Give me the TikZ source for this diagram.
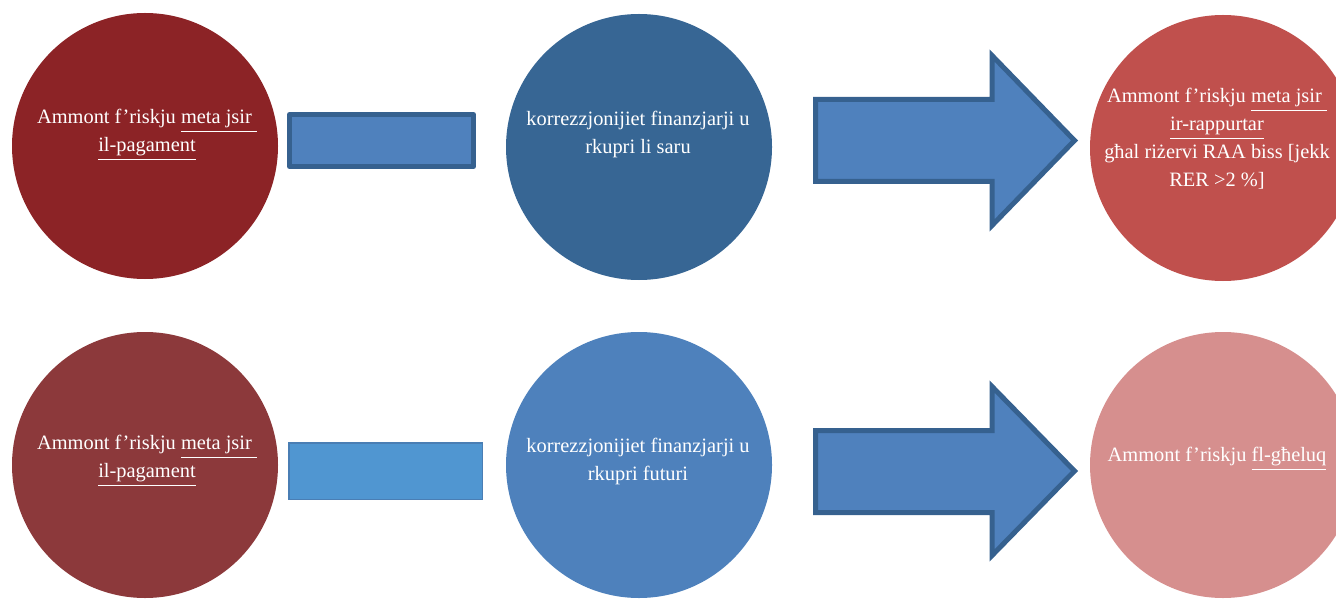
\documentclass[tikz,border=0pt]{standalone}
\usepackage{fontspec}
\setmainfont{Liberation Serif}
\usetikzlibrary{positioning}

\definecolor{lossdark}{RGB}{140,35,38}
\definecolor{losslight}{RGB}{140,57,59}
\definecolor{corrdark}{RGB}{55,102,148}
\definecolor{corrlight}{RGB}{78,129,188}
\definecolor{repdark}{RGB}{192,80,77}
\definecolor{replight}{RGB}{214,143,142}
\definecolor{shapeblue}{RGB}{79,129,189}
\definecolor{shapeedge}{RGB}{54,97,143}
\definecolor{barlight}{RGB}{80,150,209}
\definecolor{baredge}{RGB}{74,126,180}

\begin{document}
\begin{tikzpicture}[x=0.5pt,y=-0.5pt]
    \tikzstyle{disc}=[circle, minimum size=133pt, inner sep=0pt]
    \tikzstyle{txt}=[text=white, align=center, inner sep=0pt, font=\fontsize{10.2}{14}\selectfont]
    \tikzstyle{bar}=[rectangle, inner sep=0pt]
    \tikzstyle{bigarrow}=[fill=shapeblue, draw=shapeedge, line width=2.5pt, line join=miter]

    \useasboundingbox (0,0) rectangle (1336,604);

    % top row
    \node[disc, fill=lossdark]  (loss1) at (145,146) {};
    \node[disc, fill=corrdark]  (corr1) at (639,147) {};
    \node[disc, fill=repdark]   (rep1)  at (1223,148) {};
    \node[txt] (loss1txt) at (147,135) {Ammont f’riskju \underline{meta jsir\ }\\ \underline{il-pagament}};
    \node[txt] (corr1txt) at (638,134) {korrezzjonijiet finanzjarji u\\ rkupri li saru};
    \node[txt] (rep1txt)  at (1217,139) {Ammont f’riskju \underline{meta jsir\ }\\ \underline{ir-rappurtar}\\ għal riżervi RAA biss [jekk\\ RER >2 \%]};

    \node[bar, fill=shapeblue, draw=shapeedge, line width=2.5pt, line join=round,
          minimum width=92pt, minimum height=26pt] (link1) at (381.5,140.5) {};
    \draw[bigarrow] (815.5,99.5) -- (992,99.5) -- (992,55.5) -- (1074.5,140.5)
        -- (992,225.5) -- (992,181.5) -- (815.5,181.5) -- cycle;

    % bottom row
    \node[disc, fill=losslight] (loss2) at (145,465) {};
    \node[disc, fill=corrlight] (corr2) at (639,465) {};
    \node[disc, fill=replight]  (rep2)  at (1223,465) {};
    \node[txt] (loss2txt) at (147,461) {Ammont f’riskju \underline{meta jsir\ }\\ \underline{il-pagament}};
    \node[txt] (corr2txt) at (638,461) {korrezzjonijiet finanzjarji u\\ rkupri futuri};
    \node[txt] (rep2txt)  at (1217,459) {Ammont f’riskju \underline{fl-għeluq}};

    \node[bar, fill=barlight, draw=baredge, line width=0.75pt,
          minimum width=96.75pt, minimum height=28.25pt] (link2) at (385.5,471) {};
    \draw[bigarrow] (815.5,430.5) -- (992,430.5) -- (992,386.5) -- (1074.5,471)
        -- (992,555.5) -- (992,512.5) -- (815.5,512.5) -- cycle;

\end{tikzpicture}
\end{document}
